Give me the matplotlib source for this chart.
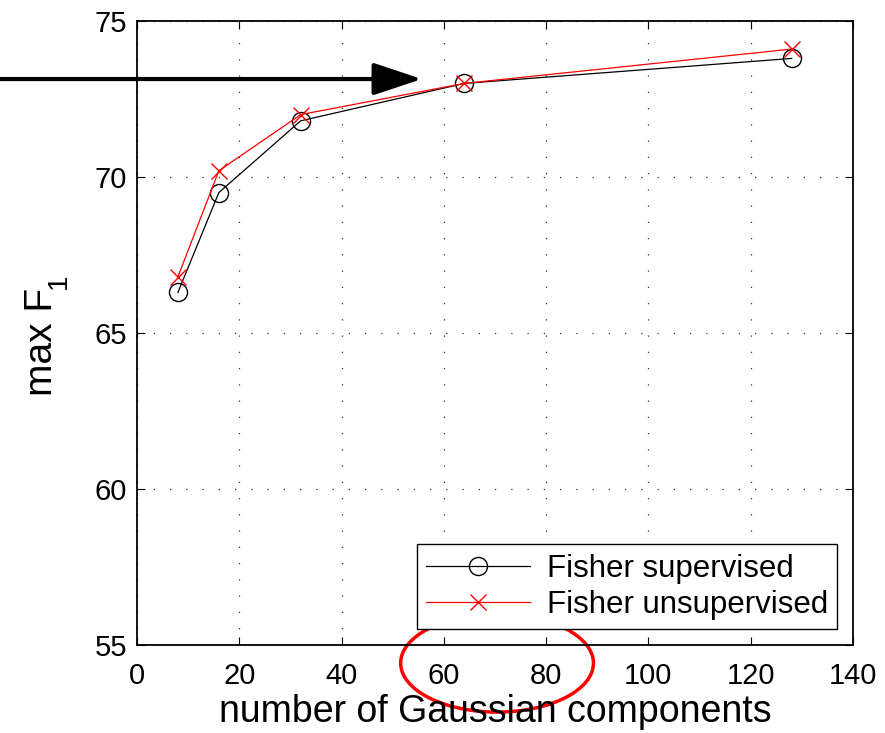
import matplotlib
matplotlib.use("Agg")
import matplotlib.pyplot as plt
from matplotlib.patches import Ellipse

plt.rcParams['font.family'] = ['Liberation Sans', 'DejaVu Sans']

# dados
componentes = [8, 16, 32, 64, 128]
f1_supervisionado = [66.3, 69.5, 71.8, 73.0, 73.8]
f1_nao_supervisionado = [66.8, 70.2, 72.0, 73.0, 74.1]
rotulos = ['Fisher supervised', 'Fisher unsupervised']
xticks = [0, 20, 40, 60, 80, 100, 120, 140]
yticks = [55, 60, 65, 70, 75]

fig = plt.figure(figsize=(8.85, 7.33), dpi=100)
ax = fig.add_axes([137 / 885, 1 - 645 / 733, (853 - 137) / 885, (645 - 21) / 733])

ax.plot(componentes, f1_supervisionado, color='black', linewidth=0.9,
        marker='o', markersize=13, markerfacecolor='none', markeredgewidth=1.0,
        label=rotulos[0])
ax.plot(componentes, f1_nao_supervisionado, color='red', linewidth=0.9,
        marker='x', markersize=11, markeredgewidth=1.0, label=rotulos[1])

ax.set_xlim(0, 140)
ax.set_ylim(55, 75)
ax.set_xticks(xticks)
ax.set_yticks(yticks)
ax.tick_params(direction='in', top=True, right=True, labelsize=21, length=6)
ax.tick_params(axis='x', pad=12)
ax.tick_params(axis='y', pad=7)
ax.grid(True, linestyle=(0, (1, 12)), color='#333333', linewidth=0.9)
for s in ax.spines.values():
    s.set_linewidth(1.3)

ax.set_xlabel('number of Gaussian components', fontsize=27, labelpad=3)
# rótulo y no estilo do matlab: "1" grande e bem abaixo da linha de base
ax.set_ylabel('max F', fontsize=28)
ax.yaxis.set_label_coords(-0.1075, 0.486)
fig.text(59 / 885, 1 - 281 / 733, '1', fontsize=20, rotation=90,
         ha='center', va='center')

leg = ax.legend(loc='lower right', fontsize=22.5, frameon=True, fancybox=False,
                edgecolor='black', framealpha=1, borderpad=0.3, handlelength=3.3,
                handletextpad=0.55, labelspacing=0.2, borderaxespad=0.5)
leg.get_frame().set_linewidth(1.0)

# seta preta vinda da esquerda
ax.annotate('', xy=(55.7, 73.14), xytext=(-27, 73.14), annotation_clip=False,
            arrowprops=dict(arrowstyle='-|>,head_length=3.0,head_width=1.0',
                            color='black', linewidth=3, shrinkA=0, shrinkB=0))

# elipse vermelha em volta de 60 e 80
el = Ellipse((70.4, 54.42), 37.7, 3.14, fill=False, edgecolor='red',
             linewidth=2.5, clip_on=False)
ax.add_patch(el)

fig.savefig('out.png', dpi=100)
